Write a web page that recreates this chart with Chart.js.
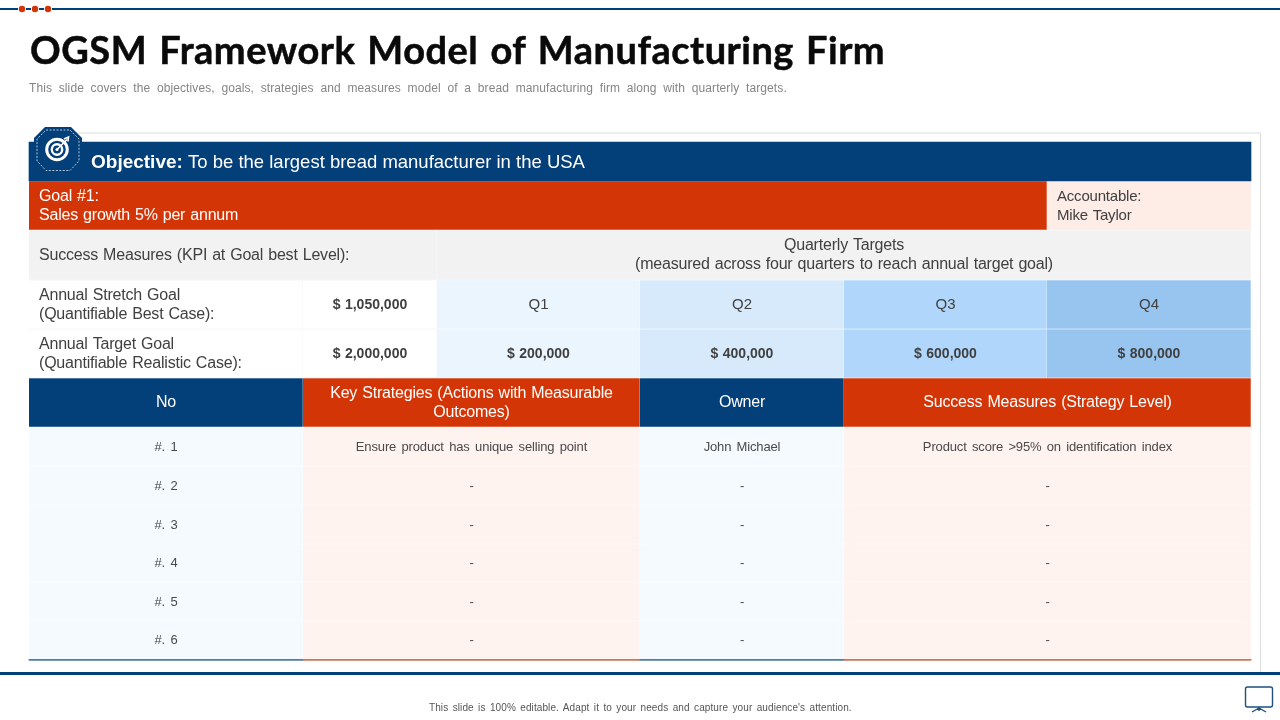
<!DOCTYPE html>
<html>
<head>
<meta charset="utf-8">
<title>OGSM Framework Model of Manufacturing Firm</title>
<script src="https://cdn.jsdelivr.net/npm/chart.js@4"></script>
<style>
  html, body { margin: 0; padding: 0; background: #fff; }
  #slide { position: relative; width: 1280px; height: 720px; overflow: hidden; }
  #table-canvas { position: absolute; left: 0; top: 0; }
  #deco { position: absolute; left: 0; top: 0; }
  .txt { position: absolute; white-space: nowrap; }
  #title { left: 30px; top: 26px; font: 700 38px/46px Lato, sans-serif; color: #0a0a0a; letter-spacing: 0.5px; word-spacing: 2.4px; -webkit-text-stroke: 0.5px #0a0a0a; }
  #subtitle { left: 29px; top: 81px; font: 12px/15px "Liberation Sans", sans-serif; color: #858585; letter-spacing: 0.1px; word-spacing: 3.25px; }
  #footer { left: 429px; top: 701px; font: 10px/13px "Liberation Sans", sans-serif; color: #555; letter-spacing: 0.1px; word-spacing: 1.5px; }
</style>
</head>
<body>
<div id="slide">
  <canvas id="table-canvas" width="1280" height="720"></canvas>
  <svg id="deco" width="1280" height="720" viewBox="0 0 1280 720">
    <path d="M0 9H18M26 9H31M39 9H44M52 9H1280" stroke="#003f77" stroke-width="2" fill="none"/>
    <circle cx="22" cy="9" r="3.2" fill="#d33506"/>
    <circle cx="35" cy="9" r="3.2" fill="#d33506"/>
    <circle cx="48" cy="9" r="3.2" fill="#d33506"/>
    <path d="M64 133H1260.5V672" stroke="#dcdcdc" stroke-width="1" fill="none"/>
    <rect x="0" y="672" width="1280" height="3" fill="#003f77"/>
    <path d="M45 127H71L82 138V162L71 173H45L34 162V138Z" fill="#033f78"/>
    <path d="M46 130H70L79 139V161L70 170.5H46L37 161V139Z" fill="none" stroke="#fff" stroke-width="0.7" stroke-dasharray="2 1.5"/>
    <circle cx="57" cy="149.5" r="10.3" fill="none" stroke="#fff" stroke-width="3"/>
    <circle cx="57" cy="149.5" r="5.2" fill="none" stroke="#fff" stroke-width="2.4"/>
    <circle cx="57" cy="149.5" r="1.6" fill="#fff"/>
    <path d="M57 149.5L67 139.5M64 139L68.5 137L68 141.5" fill="none" stroke="#fff" stroke-width="1.6"/>
    <rect x="1245.5" y="687" width="27" height="20" rx="2" fill="none" stroke="#1d4f7f" stroke-width="1.4"/>
    <path d="M1259 707V711M1259 708L1252 712M1259 708L1266 712" fill="none" stroke="#1d4f7f" stroke-width="1.4"/>
  </svg>
  <div class="txt" id="title"></div>
  <div class="txt" id="subtitle"></div>
  <div class="txt" id="footer"></div>
</div>
<script>
// Slide text
const titleText = "OGSM Framework Model of Manufacturing Firm";
const subtitleText = "This slide covers the objectives, goals, strategies and measures model of a bread manufacturing firm along with quarterly targets.";
const footerText = "This slide is 100% editable. Adapt it to your needs and capture your audience's attention.";

// Table content
const objectiveLead = "Objective:";
const objectiveText = "To be the largest bread manufacturer in the USA";
const goalLines = ["Goal #1:", "Sales growth 5% per annum"];
const accountableLines = ["Accountable:", "Mike Taylor"];
const kpiHeading = "Success Measures (KPI at Goal best Level):";
const quarterlyHeading = ["Quarterly Targets", "(measured across four quarters to reach annual target goal)"];
const stretchLabel = ["Annual Stretch Goal", "(Quantifiable Best Case):"];
const targetLabel = ["Annual Target Goal", "(Quantifiable Realistic Case):"];
const stretchValue = 1050000;
const targetValue = 2000000;
const quarters = ["Q1", "Q2", "Q3", "Q4"];
const quarterTargets = [200000, 400000, 600000, 800000];
const strategyHeaders = ["No", ["Key Strategies (Actions with Measurable", "Outcomes)"], "Owner", "Success Measures (Strategy Level)"];
const strategyNumbers = ["#. 1", "#. 2", "#. 3", "#. 4", "#. 5", "#. 6"];
const strategies = ["Ensure product has unique selling point", "-", "-", "-", "-", "-"];
const owners = ["John Michael", "-", "-", "-", "-", "-"];
const strategyMeasures = ["Product score >95% on identification index", "-", "-", "-", "-", "-"];

// Table geometry, in slide pixels
const colEdges = [29, 303, 437, 640, 844, 1047, 1251];
const rowEdges = [142, 181, 230, 280, 329, 378, 427, 466, 505, 544, 582, 621, 659, 660.5];

const NAVY = "#033f78";
const RED = "#d33506";
const TEXT = "#404040";
const quarterFills = ["#ebf5fe", "#d7eafc", "#b0d7fb", "#98c5ef"];
const money = v => "$ " + v.toLocaleString("en-US");

function cell(from, to, text, fill, style) {
  return Object.assign({ from, to, text, fill, color: TEXT, size: 16, weight: "", left: null, lh: 19, ws: 0.8, ls: -0.2 }, style);
}

const boldCell = { size: 14, weight: "bold", ws: 0.5, ls: 0 };
const white = { color: "#fff" };
const bodyCell = { size: 13, color: "#4a4a4a", ws: 1.9, ls: -0.15 };

const rows = [
  [cell(0, 6, "", NAVY)],
  [cell(0, 5, goalLines, RED, { color: "#fff", left: 39 }), cell(5, 6, accountableLines, "#feece7", { left: 1057, size: 15, ls: -0.2 })],
  [cell(0, 2, kpiHeading, "#f2f2f2", { left: 39 }), cell(2, 6, quarterlyHeading, "#f2f2f2")],
  [cell(0, 1, stretchLabel, "#fff", { left: 39 }), cell(1, 2, money(stretchValue), "#fff", boldCell)]
    .concat(quarters.map((q, i) => cell(i + 2, i + 3, q, quarterFills[i], { size: 15, ls: 0 }))),
  [cell(0, 1, targetLabel, "#fff", { left: 39 }), cell(1, 2, money(targetValue), "#fff", boldCell)]
    .concat(quarterTargets.map((v, i) => cell(i + 2, i + 3, money(v), quarterFills[i], boldCell))),
  [cell(0, 1, strategyHeaders[0], NAVY, white), cell(1, 3, strategyHeaders[1], RED, white),
   cell(3, 4, strategyHeaders[2], NAVY, white), cell(4, 6, strategyHeaders[3], RED, white)]
];
strategyNumbers.forEach((n, i) => {
  rows.push([
    cell(0, 1, n, "#f5faff", bodyCell),
    cell(1, 3, strategies[i], "#fff3f0", bodyCell),
    cell(3, 4, owners[i], "#f5faff", bodyCell),
    cell(4, 6, strategyMeasures[i], "#fff3f0", bodyCell)
  ]);
});
// thin closing rule under the last row
rows.push([cell(0, 1, "", "#4b7ba3"), cell(1, 3, "", "#c9745a"), cell(3, 4, "", "#4b7ba3"), cell(4, 6, "", "#c9745a")]);

const datasets = rows.map((r, i) => ({
  data: r.map(c => ({ x: [colEdges[c.from], colEdges[c.to]], y: (rowEdges[i] + rowEdges[i + 1]) / 2 })),
  backgroundColor: r.map(c => c.fill),
  // white cells get a faint grey edge so the grid still shows
  borderColor: r.map(c => c.fill === "#fff" ? "#efefef" : "rgba(255,255,255,0.55)"),
  borderWidth: i === 0 || i === rows.length - 1 ? 0 : 0.6,
  barThickness: rowEdges[i + 1] - rowEdges[i],
  grouped: false
}));

// Cell labels sit on the bars that the chart laid out
const cellLabels = {
  id: "cellLabels",
  afterDatasetsDraw(chart) {
    const ctx = chart.ctx;
    ctx.save();
    ctx.textBaseline = "middle";
    rows.forEach((r, i) => {
      const bars = chart.getDatasetMeta(i).data;
      r.forEach((c, j) => {
        if (!c.text) return;
        const bar = bars[j];
        const lines = Array.isArray(c.text) ? c.text : [c.text];
        ctx.font = `${c.weight} ${c.size}px "Liberation Sans", sans-serif`;
        ctx.fillStyle = c.color;
        ctx.wordSpacing = c.ws + "px";
        ctx.letterSpacing = c.ls + "px";
        ctx.textAlign = c.left === null ? "center" : "left";
        const x = c.left === null ? (bar.base + bar.x) / 2 : c.left;
        lines.forEach((line, k) => {
          ctx.fillText(line, x, bar.y + (k - (lines.length - 1) / 2) * c.lh + 0.5);
        });
      });
    });

    // objective line has a bold lead-in
    const top = chart.getDatasetMeta(0).data[0];
    ctx.textAlign = "left";
    ctx.fillStyle = "#fff";
    ctx.wordSpacing = "0px";
    ctx.letterSpacing = "0px";
    ctx.font = 'bold 19px "Liberation Sans", sans-serif';
    ctx.fillText(objectiveLead, 91, top.y + 1);
    ctx.font = '18.5px "Liberation Sans", sans-serif';
    ctx.fillText(objectiveText, 188, top.y + 1);
    ctx.restore();
  }
};

document.getElementById("title").textContent = titleText;
document.getElementById("subtitle").textContent = subtitleText;
document.getElementById("footer").textContent = footerText;

new Chart(document.getElementById("table-canvas"), {
  type: "bar",
  data: { datasets },
  options: {
    indexAxis: "y",
    responsive: false,
    animation: false,
    layout: { padding: 0 },
    plugins: { legend: { display: false }, tooltip: { enabled: false } },
    scales: {
      x: { type: "linear", min: 0, max: 1280, display: false },
      y: { type: "linear", min: 0, max: 720, reverse: true, offset: false, display: false }
    }
  },
  plugins: [cellLabels]
});
</script>
</body>
</html>
